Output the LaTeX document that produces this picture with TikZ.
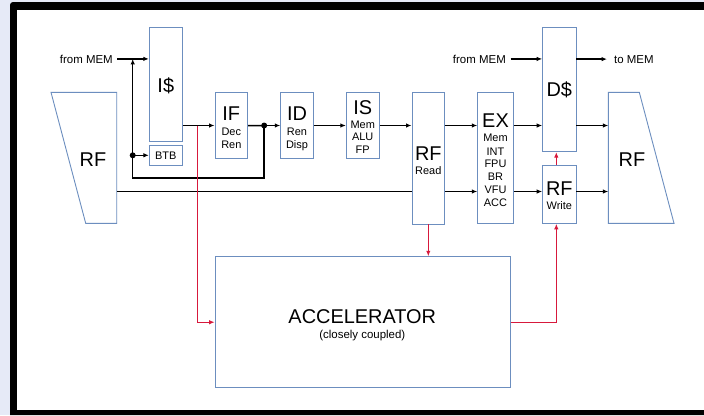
\documentclass[tikz,border=0pt]{standalone}
\usepackage{fontspec}
\setmainfont{Liberation Sans}
\usetikzlibrary{arrows.meta,calc}
\definecolor{boxblue}{RGB}{108,142,191}
\definecolor{accred}{RGB}{215,25,60}
\definecolor{bgl}{RGB}{230,234,247}
\begin{document}
\begin{tikzpicture}[x=1bp,y=-1bp,
  box/.style={draw=boxblue, line width=0.9pt, inner sep=0pt, fill=white},
  boxline/.style={draw=boxblue, line width=0.9pt},
  big/.style={font=\fontsize{20}{24}\selectfont, inner sep=0pt, anchor=base},
  small/.style={font=\fontsize{11}{13}\selectfont, inner sep=0pt, anchor=base},
  memtext/.style={font=\fontsize{11.5}{13}\selectfont, inner sep=0pt},
  wire/.style={line width=1.5pt, black},
  arr/.style={wire, -{Latex[length=5.5pt,width=4.5pt]}},
  redarr/.style={line width=1.4pt, accred, -{Latex[length=5.5pt,width=4.5pt]}},
  jdot/.style={circle, fill=black, inner sep=0pt, minimum size=6pt}]
\useasboundingbox (0,0) rectangle (704,415);
% frame
\fill[bgl] (0,0) rectangle (704,415);
\fill[black] (10,415) -- (10,5) to[out=90,in=180] (13,2) -- (704,2) -- (704,415) -- cycle;
\fill[white] (17,9.5) rectangle (704,410);

% register files (trapezoids)
\draw[boxline] (51,92.3) -- (116.7,92.3) -- (116.7,223.3) -- (85.7,223.3) -- cycle;
\coordinate (rfle) at (116.7,158);
\node[big] (rfltxt) at (93,166.5) {RF};
\draw[boxline] (608.3,92.3) -- (639.3,92.3) -- (674,223.3) -- (608.3,223.3) -- cycle;
\coordinate (rfrw) at (608.3,158);
\node[big] (rfrtxt) at (632,166.7) {RF};

% boxes
\node[box, minimum width=33bp, minimum height=114.4bp] (ic) at (165.8,84.5) {};
\node[box, minimum width=33bp, minimum height=19.3bp] (btb) at (165.8,155.3) {};
\node[box, minimum width=32.7bp, minimum height=65.4bp] (if) at (231.3,125.5) {};
\node[box, minimum width=32.6bp, minimum height=65.6bp] (id) at (297,125.5) {};
\node[box, minimum width=32.7bp, minimum height=65.6bp] (is) at (362.7,125.5) {};
\node[box, minimum width=32.7bp, minimum height=131.3bp] (rfr) at (428.3,158.3) {};
\node[box, minimum width=35.6bp, minimum height=130.6bp] (ex) at (495.5,158) {};
\node[box, minimum width=33.3bp, minimum height=124.4bp] (dc) at (559.3,89.5) {};
\node[box, minimum width=33.3bp, minimum height=58.3bp] (rfw) at (559.3,194.2) {};
\node[box, minimum width=295.3bp, minimum height=131bp] (acc) at (362.7,322.2) {};

% labels
\node[big] (ictxt) at (165.8,92.7) {I\$};
\node[small] (btbtxt) at (165.8,159.2) {BTB};
\node[big] (iftxt) at (231.3,120) {IF};
\node[small] (if1) at (231.3,135.6) {Dec};
\node[small] (if2) at (231.3,148.3) {Ren};
\node[big] (idtxt) at (297,120) {ID};
\node[small] (id1) at (297,135.6) {Ren};
\node[small] (id2) at (297,148.3) {Disp};
\node[big] (istxt) at (362.7,114) {IS};
\node[small] (is1) at (362.7,128) {Mem};
\node[small] (is2) at (362.7,140.6) {ALU};
\node[small] (is3) at (362.7,153.9) {FP};
\node[big] (rfrtx) at (428.3,160) {RF};
\node[small] (rfr1) at (428.3,174) {Read};
\node[big] (extxt) at (495.5,127) {EX};
\node[small] (ex1) at (495.5,141.6) {Mem};
\node[small] (ex2) at (495.5,155) {INT};
\node[small] (ex3) at (495.5,167.6) {FPU};
\node[small] (ex4) at (495.5,180.4) {BR};
\node[small] (ex5) at (495.5,193.4) {VFU};
\node[small] (ex6) at (495.5,206.3) {ACC};
\node[big] (dctxt) at (559.3,96.5) {D\$};
\node[big] (rfwtxt) at (559.3,195) {RF};
\node[small] (rfw1) at (559.3,209.6) {Write};
\node[big] (acctxt) at (362.3,323.5) {ACCELERATOR};
\node[memtext, anchor=base] (acc2) at (362.3,338) {(closely coupled)};

% memory texts
\node[memtext, anchor=base east] (fm1) at (113,63) {from MEM};
\node[memtext, anchor=base east] (fm2) at (506,63) {from MEM};
\node[memtext, anchor=base west] (tm) at (614,63) {to MEM};

% rows
\coordinate (row1) at (0,125.5);
\coordinate (row2) at (0,191.5);

% front end
\coordinate (jx) at (132.7,0);
\node[jdot] (d2) at (jx |- btb.west) {};
\node[jdot] (d1) at ($(if.east)!0.5!(id.west)$) {};
\draw[arr] ([xshift=4bp]fm1.east) -- (ic.west |- fm1.east);
\draw[arr] (ic.east |- if.west) -- (if.west);
\draw[wire] (if.east) -- (d1.center);
\draw[arr] (d1.center) -- (id.west |- d1);
\draw[wire] (d1.center) |- ($(d2)+(0,22.5)$) -- (d2.center);
\draw[arr] (d2.center) -- (jx |- fm1.east);
\draw[arr] (d2.center) -- (btb.west);
\draw[arr] (id.east) -- (is.west);
\draw[arr] (is.east) -- (rfr.west |- is.east);

% back end
\draw[arr] (rfr.east |- row1) -- (ex.west |- row1);
\draw[arr] (ex.east |- row1) -- (dc.west |- row1);
\draw[arr] (dc.east |- row1) -- (rfrw |- row1);
\draw[wire] (rfle |- row2) -- (rfr.west |- row2);
\draw[arr] (rfr.east |- row2) -- (ex.west |- row2);
\draw[arr] (ex.east |- row2) -- (rfw.west |- row2);
\draw[arr] (rfw.east |- row2) -- (rfrw |- row2);
\draw[arr] ([xshift=4.7bp]fm2.east) -- (dc.west |- fm2.east);
\draw[arr] (dc.east |- tm.west) -- ([xshift=-7bp]tm.west);

% accelerator connections
\coordinate (rs) at ($(ic.east |- if.west)!0.47!(if.west)$);
\draw[redarr] (rs) |- (acc.west);
\draw[redarr] (rfr.south) -- (rfr.south |- acc.north);
\draw[redarr] (acc.east) -| ([xshift=-3bp]rfw.south);
\draw[redarr] ([xshift=-3bp]rfw.north) -- ([xshift=-3bp]dc.south);
\end{tikzpicture}
\end{document}
